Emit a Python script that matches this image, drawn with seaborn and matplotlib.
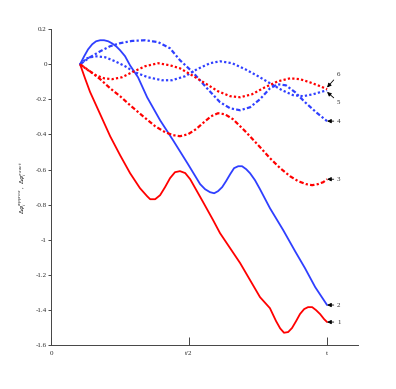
import numpy as np
import pandas as pd
import seaborn as sns
import matplotlib
matplotlib.use('Agg')
import matplotlib.pyplot as plt

# x in units of t
x1 = [0.105, 0.123, 0.141, 0.178, 0.214, 0.25, 0.286, 0.322, 0.348, 0.359, 0.377, 0.395, 0.413, 0.431,
      0.449, 0.467, 0.486, 0.504, 0.551, 0.587, 0.612, 0.685, 0.757, 0.793, 0.815, 0.83, 0.844, 0.859,
      0.873, 0.888, 0.902, 0.917, 0.931, 0.946, 0.96, 0.975, 0.989, 1.0]
y1 = [0, -0.08, -0.157, -0.285, -0.41, -0.518, -0.62, -0.706, -0.752, -0.769, -0.769, -0.746, -0.7, -0.649,
      -0.615, -0.609, -0.62, -0.655, -0.786, -0.888, -0.962, -1.133, -1.327, -1.39, -1.463, -1.505, -1.53,
      -1.526, -1.503, -1.463, -1.423, -1.395, -1.384, -1.384, -1.401, -1.424, -1.452, -1.469]

x2 = [0.105, 0.12, 0.134, 0.149, 0.163, 0.178, 0.192, 0.207, 0.221, 0.236, 0.25, 0.268, 0.286, 0.315,
      0.348, 0.395, 0.442, 0.496, 0.54, 0.558, 0.576, 0.591, 0.605, 0.62, 0.634, 0.649, 0.663, 0.678,
      0.692, 0.707, 0.721, 0.739, 0.757, 0.793, 0.841, 0.884, 0.92, 0.957, 1.0]
y2 = [0, 0.046, 0.085, 0.114, 0.131, 0.137, 0.137, 0.131, 0.119, 0.102, 0.08, 0.046, -0.006, -0.074,
      -0.188, -0.319, -0.433, -0.569, -0.683, -0.712, -0.729, -0.735, -0.723, -0.7, -0.666, -0.626,
      -0.592, -0.581, -0.581, -0.598, -0.621, -0.661, -0.712, -0.82, -0.945, -1.065, -1.162, -1.27, -1.372]

x3 = [0.105, 0.141, 0.178, 0.214, 0.25, 0.286, 0.333, 0.377, 0.413, 0.442, 0.467, 0.496, 0.525, 0.554,
      0.58, 0.605, 0.63, 0.659, 0.703, 0.757, 0.793, 0.83, 0.866, 0.895, 0.924, 0.946, 0.967, 0.986, 1.0]
y3 = [0, -0.04, -0.085, -0.137, -0.182, -0.233, -0.296, -0.353, -0.387, -0.404, -0.41, -0.399, -0.37,
      -0.33, -0.296, -0.279, -0.285, -0.313, -0.381, -0.472, -0.535, -0.592, -0.638, -0.666, -0.683,
      -0.689, -0.683, -0.672, -0.655]

x4 = [0.105, 0.141, 0.178, 0.214, 0.25, 0.293, 0.341, 0.388, 0.431, 0.467, 0.514, 0.565, 0.612, 0.649,
      0.685, 0.721, 0.757, 0.793, 0.822, 0.851, 0.884, 0.92, 0.96, 1.0]
y4 = [0, 0.04, 0.074, 0.103, 0.12, 0.133, 0.137, 0.126, 0.091, 0.023, -0.046, -0.137, -0.216, -0.251,
      -0.262, -0.245, -0.199, -0.137, -0.114, -0.12, -0.159, -0.216, -0.273, -0.324]

x5 = [0.105, 0.13, 0.159, 0.196, 0.232, 0.268, 0.304, 0.351, 0.402, 0.438, 0.486, 0.529, 0.576, 0.612,
      0.656, 0.703, 0.75, 0.793, 0.837, 0.877, 0.913, 0.949, 0.975, 1.0]
y5 = [0, 0.034, 0.046, 0.040, 0.017, -0.011, -0.046, -0.074, -0.091, -0.091, -0.068, -0.028, 0.006, 0.017,
      0.006, -0.028, -0.068, -0.108, -0.148, -0.176, -0.182, -0.171, -0.159, -0.148]

x6 = [0.105, 0.134, 0.163, 0.192, 0.221, 0.257, 0.293, 0.341, 0.388, 0.431, 0.467, 0.511, 0.558, 0.605,
      0.649, 0.685, 0.728, 0.775, 0.822, 0.866, 0.902, 0.938, 0.975, 1.0]
y6 = [0, -0.034, -0.063, -0.080, -0.085, -0.074, -0.046, -0.011, 0.006, -0.006, -0.023, -0.063, -0.108,
      -0.154, -0.182, -0.188, -0.171, -0.131, -0.097, -0.080, -0.085, -0.103, -0.125, -0.142]

red = '#ff0000'
blue = '#2f3fff'
dashdot = (0, (2, 1, 1, 1))
dots = (0, (1, 1))
curves = [('1', x1, y1, red, '-'),
          ('2', x2, y2, blue, '-'),
          ('3', x3, y3, red, dashdot),
          ('4', x4, y4, blue, dashdot),
          ('5', x5, y5, blue, dots),
          ('6', x6, y6, red, dots)]

# label text (x, y) and arrow target y
label_pos = {'1': (1.036, -1.469, -1.469), '2': (1.036, -1.372, -1.372), '3': (1.036, -0.655, -0.655),
             '4': (1.036, -0.324, -0.324), '5': (1.036, -0.216, -0.158), '6': (1.036, -0.057, -0.132)}

yticks = [0.2, 0, -0.2, -0.4, -0.6, -0.8, -1, -1.2, -1.4, -1.6]
xticks = [0, 0.5, 1]
xticklabels = ['0', 't/2', 't']

sns.set_style('white')
plt.rcParams['font.family'] = ['Liberation Serif', 'DejaVu Serif']

fig = plt.figure(figsize=(3.96, 3.89), dpi=100)
ax = fig.add_axes([0.129, 0.113, 0.775, 0.812])

for name, xs, ys, col, ls in curves:
    d = pd.DataFrame({'x': xs, 'y': ys})
    lw = 1.3 if ls == '-' else 1.6
    sns.lineplot(data=d, x='x', y='y', color=col, linestyle=ls, lw=lw,
                 sort=False, estimator=None, ax=ax)

for name, (tx, ty, ay) in label_pos.items():
    ax.annotate(name, xy=(1.0, ay), xytext=(tx, ty), fontsize=5, va='center', ha='left',
                arrowprops=dict(arrowstyle='-|>', color='k', lw=0.6, mutation_scale=6,
                                shrinkA=0, shrinkB=0))

ax.set_xlim(0, 1.112)
ax.set_ylim(-1.6, 0.2)
ax.set_yticks(yticks)
ax.set_yticklabels([('%g' % v) for v in yticks])
ax.set_xticks(xticks)
ax.set_xticklabels(xticklabels)
ax.tick_params(axis='y', direction='out', length=2, width=0.6, labelsize=5, pad=1, left=True)
ax.tick_params(axis='x', direction='in', length=6, width=0.6, labelsize=5, pad=4, bottom=True)
ax.set_xlabel('')
ax.set_ylabel(r'$\Delta\varphi_{i}^{approx}$ ,  $\Delta\varphi_{i}^{exact}$', fontsize=4.5, labelpad=5)
sns.despine(ax=ax)
for s in ['left', 'bottom']:
    ax.spines[s].set_color('#444444')
    ax.spines[s].set_linewidth(0.7)

fig.savefig('out.png', dpi=100)
